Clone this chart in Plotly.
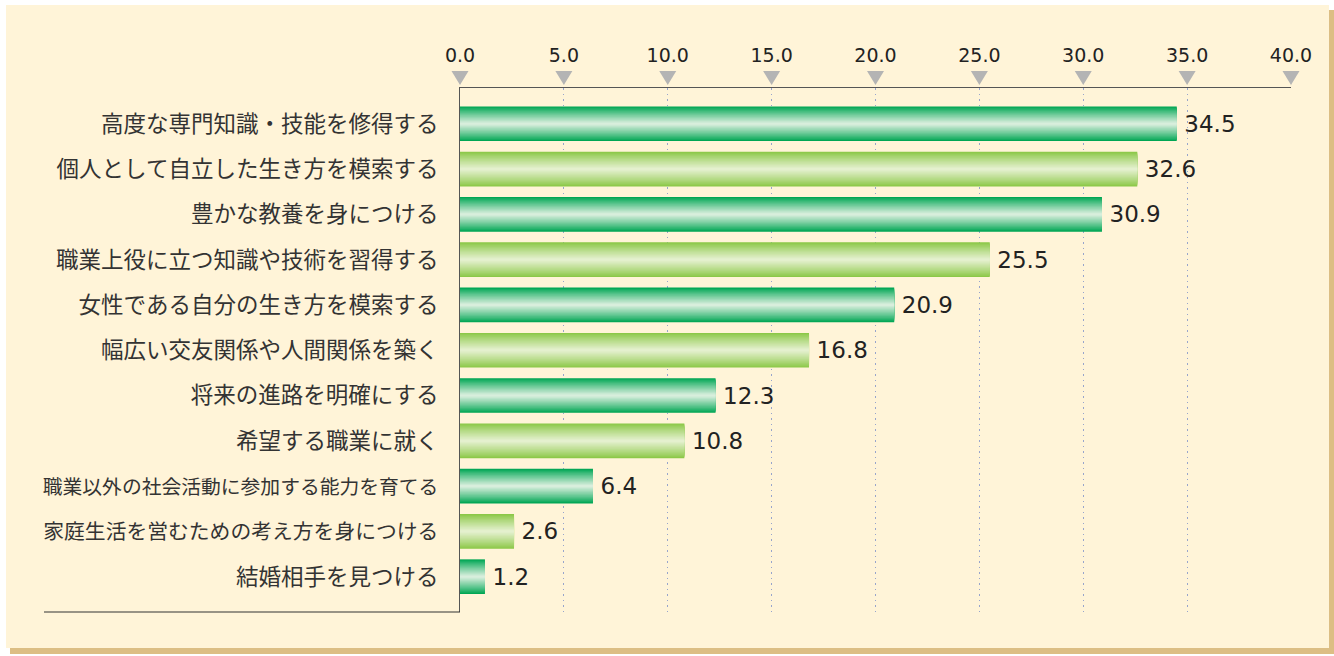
import plotly.graph_objects as go

categories = [
    "高度な専門知識・技能を修得する",
    "個人として自立した生き方を模索する",
    "豊かな教養を身につける",
    "職業上役に立つ知識や技術を習得する",
    "女性である自分の生き方を模索する",
    "幅広い交友関係や人間関係を築く",
    "将来の進路を明確にする",
    "希望する職業に就く",
    "職業以外の社会活動に参加する能力を育てる",
    "家庭生活を営むための考え方を身につける",
    "結婚相手を見つける",
]
values = [34.5, 32.6, 30.9, 25.5, 20.9, 16.8, 12.3, 10.8, 6.4, 2.6, 1.2]
tick_vals = [0, 5, 10, 15, 20, 25, 30, 35, 40]
tick_text = ["0.0", "5.0", "10.0", "15.0", "20.0", "25.0", "30.0", "35.0", "40.0"]

W, H = 1334, 656
L, R, T, B = 460, 1291, 88, 612
XMAX = 40
LABEL_MAX_W = 396  # available width for category labels (px)
LABEL_FS = 22.5


def px(x):
    return (x - L) / (R - L)


def py(y):
    return (B - y) / (B - T)


def fit_label(s):
    fs = min(LABEL_FS, LABEL_MAX_W / len(s))
    if fs < LABEL_FS:
        return f'<span style="font-size:{fs:.1f}px">{s}</span>'
    return s


dark_edge = (0, 166, 84)
dark_mid = (216, 238, 220)
light_edge = (140, 200, 72)
light_mid = (228, 240, 206)


def mix(a, b, t):
    return "rgb(%d,%d,%d)" % tuple(round(a[i] + (b[i] - a[i]) * t) for i in range(3))


fig = go.Figure()
K = 16
BW = 0.765
for k in range(K):
    t = (k / (K - 1)) ** 0.9
    cols = [mix(dark_edge, dark_mid, t) if i % 2 == 0 else mix(light_edge, light_mid, t)
            for i in range(len(values))]
    fig.add_trace(go.Bar(
        x=values, y=categories, orientation="h",
        width=BW * (1 - k / K),
        marker=dict(color=cols, line=dict(width=0)),
        text=["\u2009" + f"{v:.1f}" for v in values] if k == 0 else None,
        textposition="outside" if k == 0 else "none",
        textfont=dict(family="DejaVu Sans", size=23, color="#222222"),
        cliponaxis=False,
        hoverinfo="skip",
        showlegend=False,
    ))

# triangle tick markers (positioned from tick values)
half = 8.5 / (R - L)
shapes = [
    dict(type="rect", xref="paper", yref="paper", layer="below",
         x0=px(10), x1=px(1334), y0=py(654), y1=py(10),
         fillcolor="#DCBE84", line=dict(width=0)),
    dict(type="rect", xref="paper", yref="paper", layer="below",
         x0=px(6), x1=px(1329), y0=py(648), y1=py(5),
         fillcolor="#FFF4D8", line=dict(width=0)),
    dict(type="line", xref="paper", yref="paper",
         x0=px(44), x1=0, y0=0, y1=0,
         line=dict(color="#333333", width=1.2)),
]
for tv in tick_vals:
    xp = tv / XMAX
    shapes.append(dict(
        type="path", xref="paper", yref="paper",
        path=f"M {xp - half},{py(71)} L {xp + half},{py(71)} L {xp},{py(85)} Z",
        fillcolor="#B4B4B4", line=dict(width=0),
    ))

fig.update_layout(
    width=W, height=H,
    margin=dict(l=L, r=W - R, t=T, b=H - B, autoexpand=False),
    paper_bgcolor="white",
    plot_bgcolor="rgba(0,0,0,0)",
    barmode="overlay",
    shapes=shapes,
    font=dict(family="Noto Sans CJK JP", color="#333333"),
    xaxis=dict(
        side="top", range=[0, XMAX], tickvals=tick_vals, ticktext=tick_text,
        tickfont=dict(family="DejaVu Sans", size=19, color="#222222"),
        ticks="outside", ticklen=17, tickcolor="rgba(0,0,0,0)",
        showgrid=True, gridcolor="#97A4CC", griddash="1.5px,4px", gridwidth=1.2,
        zeroline=False, showline=True, linecolor="#555555", linewidth=1.2,
        automargin=False, fixedrange=True,
    ),
    yaxis=dict(
        type="category", categoryorder="array", categoryarray=categories,
        tickvals=categories, ticktext=[fit_label(c) for c in categories],
        range=[10.78, -0.79],
        tickfont=dict(family="Noto Sans CJK JP", size=LABEL_FS, color="#333333"),
        ticks="outside", ticklen=16, tickcolor="rgba(0,0,0,0)",
        showgrid=False, zeroline=False, showline=True, linecolor="#555555", linewidth=1.2,
        automargin=False, fixedrange=True,
    ),
)

fig.write_html("out.html", config={"displayModeBar": False},
               post_script="document.body.style.margin='0';document.body.style.overflow='hidden';")
